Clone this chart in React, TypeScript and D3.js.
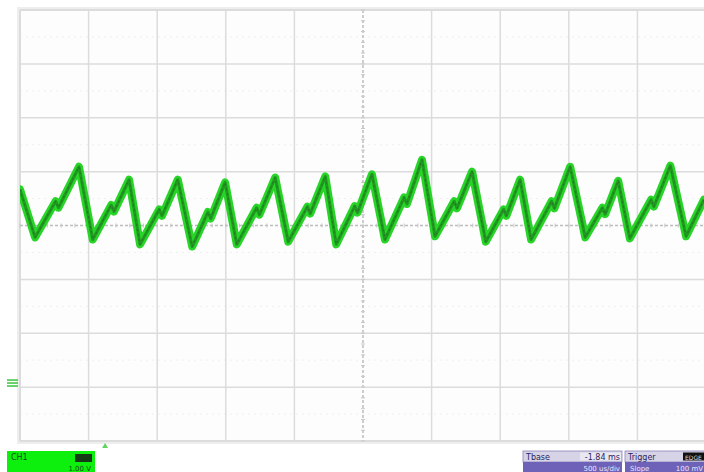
import { useMemo } from "react";
import * as d3 from "d3";

// screen: 10 x 8 divisions
const timeDivs = d3.range(0, 11);
const levelDivs = d3.range(-4, 5);

// CH1 trace (time in div, level in div from centre)
const traceTime = [
  0, 0.22, 0.52, 0.56, 0.86,
  1.06, 1.33, 1.37, 1.59,
  1.75, 2.03, 2.07, 2.3,
  2.51, 2.74, 2.78, 2.99,
  3.16, 3.45, 3.49, 3.72,
  3.91, 4.19, 4.23, 4.45,
  4.61, 4.88, 4.92, 5.13,
  5.32, 5.6, 5.64, 5.86,
  6.05, 6.33, 6.37, 6.59,
  6.79, 7.05, 7.09, 7.29,
  7.45, 7.75, 7.79, 8.02,
  8.24, 8.49, 8.53, 8.72,
  8.89, 9.2, 9.24, 9.48,
  9.71, 9.97,
];
const traceLevel = [
  0.67, -0.22, 0.45, 0.33, 1.09,
  -0.26, 0.38, 0.26, 0.85,
  -0.35, 0.3, 0.18, 0.85,
  -0.39, 0.25, 0.13, 0.8,
  -0.35, 0.33, 0.2, 0.89,
  -0.3, 0.35, 0.22, 0.91,
  -0.35, 0.36, 0.24, 0.95,
  -0.26, 0.52, 0.4, 1.22,
  -0.2, 0.45, 0.32, 1.0,
  -0.3, 0.3, 0.18, 0.85,
  -0.26, 0.45, 0.32, 1.09,
  -0.22, 0.33, 0.21, 0.83,
  -0.24, 0.48, 0.35, 1.11,
  -0.2, 0.48,
];

const groundLevel = -2.91;
const triggerTime = 1.24;

const ch1Labels = ["CH1", "1.00 V"];
const tbaseLabels = ["Tbase", "-1.84 ms", "500 us/div"];
const triggerLabels = ["Trigger", "EDGE", "Slope", "100 mV"];

export default function App() {
  const width = 704;
  const height = 472;

  const x = useMemo(
    () => d3.scaleLinear().domain([0, 10]).range([20, 706]),
    []
  );
  const y = useMemo(
    () => d3.scaleLinear().domain([-4, 4]).range([441, 10]),
    []
  );

  const path = useMemo(() => {
    const pts = traceTime.map((t, i) => [t, traceLevel[i]] as [number, number]);
    return d3
      .line<[number, number]>()
      .x((d) => x(d[0]))
      .y((d) => y(d[1]))(pts) ?? "";
  }, [x, y]);

  const minorTicks = d3.range(0, 10.01, 0.2);
  const minorTicksY = d3.range(-4, 4.01, 0.2);
  const halfDivsY = d3.range(-3.5, 4, 1);

  return (
    <svg
      width={width}
      height={height}
      style={{ position: "absolute", left: 0, top: 0, background: "#fff" }}
      fontFamily="DejaVu Sans, sans-serif"
    >
      <defs>
        <clipPath id="screen">
          <rect x={x(0)} y={y(4)} width={x(10) - x(0)} height={y(-4) - y(4)} />
        </clipPath>
      </defs>

      {/* Screen */}
      <rect x={x(0) - 3} y={y(4) - 3} width={x(10) - x(0) + 6} height={y(-4) - y(4) + 6} fill="#eeeeee" />
      <rect x={x(0)} y={y(4)} width={x(10) - x(0)} height={y(-4) - y(4)} fill="#fdfdfd" />

      {/* faint dotted half-division lines */}
      {halfDivsY.map((v) => (
        <line
          key={`h${v}`}
          x1={x(0)}
          x2={x(10)}
          y1={y(v)}
          y2={y(v)}
          stroke="#efefef"
          strokeDasharray="2 4"
        />
      ))}

      {timeDivs.map((t) => (
        <line
          key={`vx${t}`}
          x1={x(t)}
          x2={x(t)}
          y1={y(4)}
          y2={y(-4)}
          stroke={t === 5 ? "#bdbdbd" : "#dcdcdc"}
          strokeWidth={t === 0 ? 2 : 1.5}
          strokeDasharray={t === 5 ? "3 2" : undefined}
        />
      ))}
      {levelDivs.map((v) => (
        <line
          key={`hy${v}`}
          x1={x(0)}
          x2={x(10)}
          y1={y(v)}
          y2={y(v)}
          stroke={v === 0 ? "#bdbdbd" : "#dcdcdc"}
          strokeWidth={v === 4 || v === -4 ? 2 : 1.5}
          strokeDasharray={v === 0 ? "3 2" : undefined}
        />
      ))}

      {/* minor ticks on centre lines */}
      {minorTicks.map((t, i) => (
        <line
          key={`mt${i}`}
          x1={x(t)}
          x2={x(t)}
          y1={y(0) - 2}
          y2={y(0) + 2}
          stroke="#c8c8c8"
        />
      ))}
      {minorTicksY.map((v, i) => (
        <line
          key={`mv${i}`}
          x1={x(5) - 2}
          x2={x(5) + 2}
          y1={y(v)}
          y2={y(v)}
          stroke="#c8c8c8"
        />
      ))}

      {/* trace */}
      <g clipPath="url(#screen)">
        <path d={path} fill="none" stroke="#28d428" strokeWidth={8} strokeLinejoin="round" strokeLinecap="round" />
        <path d={path} fill="none" stroke="#1f9a1f" strokeWidth={3} strokeLinejoin="round" />
        <path d={path} fill="none" stroke="#2d6e2d" strokeWidth={1} strokeLinejoin="round" strokeDasharray="2 3" />
      </g>

      {/* ground marker */}
      <g fill="#3cc43c">
        <rect x={7} y={y(groundLevel) - 3} width={11} height={1.5} />
        <rect x={7} y={y(groundLevel)} width={11} height={1.5} />
        <rect x={7} y={y(groundLevel) + 3} width={11} height={1.5} />
      </g>
      {/* trigger position */}
      <path
        d={`M${x(triggerTime) - 3},${y(-4) + 7} L${x(triggerTime) + 3},${y(-4) + 7} L${x(triggerTime)},${y(-4) + 2} Z`}
        fill="#5fd55f"
      />

      {/* CH1 box */}
      <rect x={7} y={451} width={88} height={21} fill="#0def0d" />
      <rect x={75} y={454} width={17} height={8} fill="#163a16" />
      <text x={11} y={460} fontSize={8} fill="#1a4a1a">{ch1Labels[0]}</text>
      <text x={91} y={471} fontSize={7} fill="#1a4a1a" textAnchor="end">{ch1Labels[1]}</text>

      {/* Tbase box */}
      <rect x={523} y={451} width={99} height={11} fill="#d6d3e6" stroke="#8a84b8" strokeWidth={0.8} />
      <rect x={523} y={462} width={99} height={10} fill="#6d62b8" />
      <rect x={580} y={452.5} width={41} height={8} fill="#e9e7f2" />
      <text x={526} y={460} fontSize={8} fill="#2a2560">{tbaseLabels[0]}</text>
      <text x={620} y={460} fontSize={8} fill="#2a2560" textAnchor="end">{tbaseLabels[1]}</text>
      <text x={620} y={471} fontSize={7} fill="#e8e6ff" textAnchor="end">{tbaseLabels[2]}</text>

      {/* Trigger box */}
      <rect x={625} y={451} width={80} height={11} fill="#d6d3e6" stroke="#8a84b8" strokeWidth={0.8} />
      <rect x={625} y={462} width={80} height={10} fill="#6d62b8" />
      <rect x={683} y={452.5} width={21} height={8} fill="#111" />
      <text x={628} y={460} fontSize={8} fill="#2a2560">{triggerLabels[0]}</text>
      <text x={685} y={459.5} fontSize={6} fill="#ddd">{triggerLabels[1]}</text>
      <text x={630} y={471} fontSize={7} fill="#e8e6ff">{triggerLabels[2]}</text>
      <text x={703} y={471} fontSize={7} fill="#e8e6ff" textAnchor="end">{triggerLabels[3]}</text>
    </svg>
  );
}
